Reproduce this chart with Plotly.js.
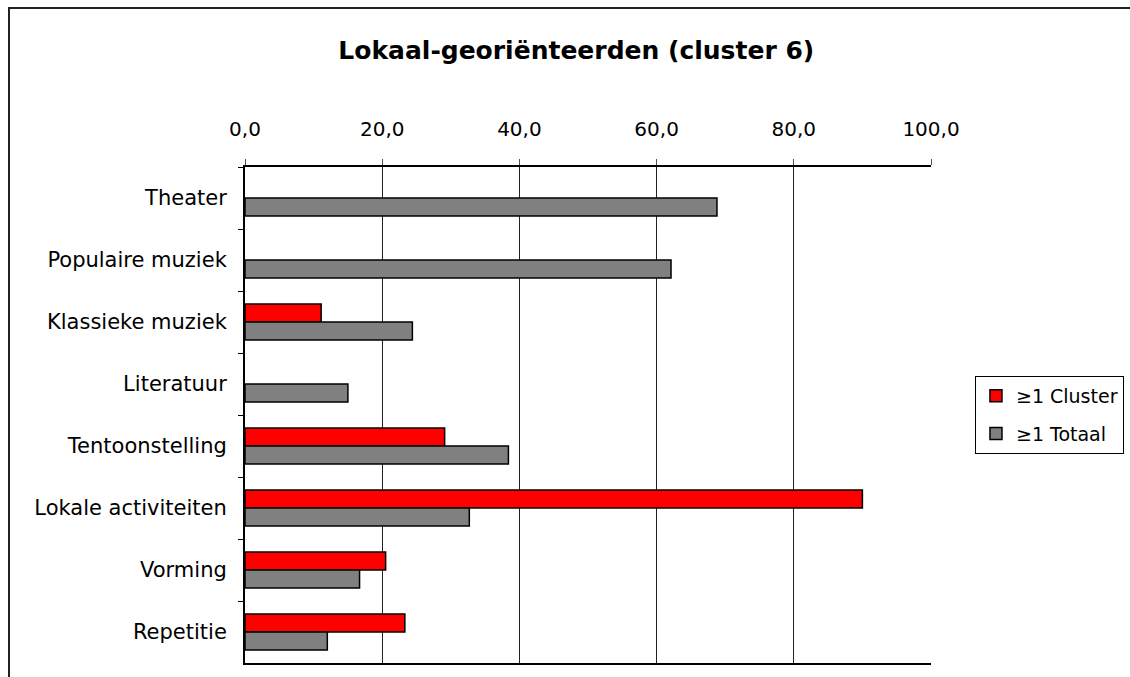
<!DOCTYPE html>
<html>
<head>
<meta charset="utf-8">
<script src="https://cdn.plot.ly/plotly-3.0.1.min.js"></script>
<style>
html,body{margin:0;padding:0;overflow:hidden;background:#fff;}
#frame{position:absolute;left:8px;top:7px;width:2000px;height:2000px;border-left:2px solid #222;border-top:2px solid #222;pointer-events:none;z-index:10;}
</style>
</head>
<body>
<div id="chart" style="width:1130px;height:677px;"></div>
<div id="frame"></div>
<script>
const categories = ["Theater","Populaire muziek","Klassieke muziek","Literatuur","Tentoonstelling","Lokale activiteiten","Vorming","Repetitie"];
const clusterValues = [null, null, 11.1, null, 29.1, 90.0, 20.5, 23.3];
const totaalValues = [68.8, 62.1, 24.4, 15.0, 38.4, 32.7, 16.7, 12.0];
const seriesNames = ["≥1 Cluster", "≥1 Totaal"];
const xTicks = [0, 20, 40, 60, 80, 100];

const traces = [
  {type:'bar', orientation:'h', name:seriesNames[0], y:categories, x:clusterValues, legendgroup:'a',
   marker:{color:'#ff0000', line:{color:'#000', width:1.5}}, hoverinfo:'x+y'},
  {type:'bar', orientation:'h', name:seriesNames[1], y:categories, x:totaalValues, legendgroup:'b',
   marker:{color:'#808080', line:{color:'#000', width:1.5}}, hoverinfo:'x+y'}
];

const layout = {
  width:1130, height:677,
  margin:{l:245, r:199, t:167, b:14, autoexpand:false},
  paper_bgcolor:'#fff', plot_bgcolor:'#fff',
  font:{family:'"DejaVu Sans", sans-serif', size:20, color:'#000'},
  title:{text:'<b>Lokaal-georiënteerden (cluster 6)</b>', font:{size:25, color:'#000'},
         x:0.51, xanchor:'center', y:0.926, yanchor:'middle'},
  separators:',.',
  barmode:'group', bargap:0.42, bargroupgap:0,
  xaxis:{side:'top', range:[0,100], tickvals:xTicks, tickformat:'.1f',
         showgrid:true, gridcolor:'#222', gridwidth:1, zeroline:false,
         showline:true, linecolor:'#000', linewidth:2, mirror:true,
         ticks:'outside', ticklen:6, tickcolor:'#555', tickfont:{size:20},
         ticklabelstandoff:15, automargin:false, fixedrange:true},
  yaxis:{autorange:'reversed', type:'category', tickson:'boundaries',
         ticks:'outside', ticklen:5, tickcolor:'#000', tickfont:{size:21},
         ticklabelstandoff:12, automargin:false,
         showline:true, linecolor:'#000', linewidth:2, showgrid:false, zeroline:false, fixedrange:true},
  legend:{x:1.0641, xanchor:'left', y:0.5786, yanchor:'top', bgcolor:'#fff',
          bordercolor:'#000', borderwidth:1, font:{size:19}, traceorder:'grouped',
          tracegroupgap:10, itemwidth:30},
  showlegend:true
};

Plotly.newPlot('chart', traces, layout, {displayModeBar:false, staticPlot:true});
</script>
</body>
</html>
